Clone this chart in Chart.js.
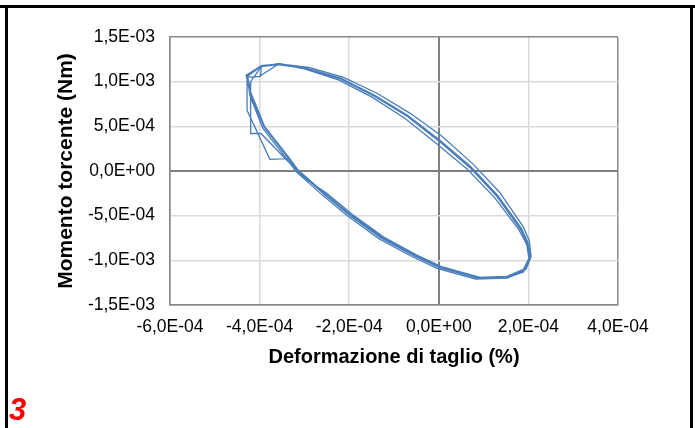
<!DOCTYPE html>
<html>
<head>
<meta charset="utf-8">
<script src="https://cdn.jsdelivr.net/npm/chart.js@4.4.1/dist/chart.umd.min.js"></script>
<style>
    body { margin: 0; background: #fff; }
    #wrap { position: relative; width: 695px; height: 428px; overflow: hidden; }
    #loop-chart { position: absolute; left: 0; top: 0; }
    .bar { position: absolute; background: #000; }
    #num { position: absolute; left: 9px; top: 392px; color: #ff0000;
           font: italic bold 31px "Liberation Sans", Arial, sans-serif; }
</style>
</head>
<body>
<div id="wrap">
    <canvas id="loop-chart" width="695" height="428"></canvas>
    <div class="bar" style="left:0;top:5px;width:695px;height:3px"></div>
    <div class="bar" style="left:5px;top:5px;width:3px;height:423px"></div>
    <div class="bar" style="left:690px;top:5px;width:3px;height:423px"></div>
    <div id="num">3</div>
</div>
<script>
// tick labels
var xTicks = [-6e-4, -4e-4, -2e-4, 0, 2e-4, 4e-4];
var yTicks = [-1.5e-3, -1e-3, -5e-4, 0, 5e-4, 1e-3, 1.5e-3];

// Deformazione di taglio (%) / Momento torcente (Nm), one array per cycle
var defCiclo1 = [-4.00e-4, -3.60e-4, -2.98e-4, -2.22e-4, -1.47e-4, -0.72e-4, -0.02e-4, 0.68e-4, 1.28e-4, 1.81e-4, 1.97e-4, 2.02e-4, 1.89e-4, 1.52e-4, 0.84e-4, -0.02e-4, -0.57e-4, -1.31e-4, -2.00e-4, -2.58e-4, -3.17e-4, -3.36e-4, -3.77e-4, -4.28e-4, -4.28e-4];
var momCiclo1 = [1.06e-3, 1.19e-3, 1.15e-3, 1.04e-3, 0.85e-3, 0.62e-3, 0.35e-3, 0.06e-3, -0.26e-3, -0.63e-3, -0.79e-3, -0.97e-3, -1.10e-3, -1.18e-3, -1.19e-3, -1.07e-3, -0.94e-3, -0.74e-3, -0.49e-3, -0.25e-3, 0.01e-3, 0.14e-3, 0.13e-3, 0.68e-3, 1.07e-3];

var defCiclo2 = [-3.96e-4, -3.55e-4, -2.90e-4, -2.14e-4, -1.38e-4, -0.62e-4, 0.07e-4, 0.76e-4, 1.36e-4, 1.88e-4, 2.02e-4, 2.06e-4, 1.95e-4, 1.58e-4, 0.92e-4, 0.06e-4, -0.49e-4, -1.23e-4, -1.92e-4, -2.50e-4, -3.00e-4, -3.97e-4, -4.20e-4, -4.20e-4];
var momCiclo2 = [1.18e-3, 1.20e-3, 1.16e-3, 1.05e-3, 0.87e-3, 0.64e-3, 0.39e-3, 0.08e-3, -0.24e-3, -0.62e-3, -0.78e-3, -0.96e-3, -1.10e-3, -1.18e-3, -1.19e-3, -1.07e-3, -0.94e-3, -0.74e-3, -0.49e-3, -0.25e-3, -0.08e-3, 0.42e-3, 0.42e-3, 1.00e-3];

var defCiclo3 = [-3.95e-4, -3.54e-4, -2.94e-4, -2.19e-4, -1.44e-4, -0.69e-4, 0.01e-4, 0.71e-4, 1.31e-4, 1.84e-4, 1.99e-4, 2.04e-4, 1.91e-4, 1.54e-4, 0.87e-4, 0.01e-4, -0.54e-4, -1.28e-4, -1.97e-4, -2.55e-4, -3.14e-4, -3.33e-4, -3.89e-4, -4.19e-4, -4.27e-4, -4.22e-4, -3.98e-4];
var momCiclo3 = [1.18e-3, 1.20e-3, 1.15e-3, 1.04e-3, 0.85e-3, 0.62e-3, 0.35e-3, 0.05e-3, -0.27e-3, -0.64e-3, -0.80e-3, -0.98e-3, -1.11e-3, -1.19e-3, -1.19e-3, -1.07e-3, -0.94e-3, -0.74e-3, -0.49e-3, -0.25e-3, 0.01e-3, 0.14e-3, 0.50e-3, 0.87e-3, 1.07e-3, 1.05e-3, 1.06e-3];

var defCiclo4 = [-3.96e-4, -3.56e-4, -2.98e-4, -2.24e-4, -1.50e-4, -0.76e-4, -0.06e-4, 0.64e-4, 1.25e-4, 1.79e-4, 1.96e-4, 2.02e-4, 1.89e-4, 1.51e-4, 0.82e-4, -0.04e-4, -0.59e-4, -1.33e-4, -2.02e-4, -2.60e-4, -3.18e-4, -3.37e-4, -3.93e-4, -4.22e-4, -4.27e-4];
var momCiclo4 = [1.18e-3, 1.20e-3, 1.14e-3, 1.02e-3, 0.83e-3, 0.59e-3, 0.31e-3, 0.02e-3, -0.30e-3, -0.66e-3, -0.82e-3, -1.00e-3, -1.13e-3, -1.20e-3, -1.21e-3, -1.09e-3, -0.96e-3, -0.76e-3, -0.51e-3, -0.27e-3, -0.01e-3, 0.12e-3, 0.48e-3, 0.85e-3, 1.06e-3];

var defCiclo5 = [-3.97e-4, -3.57e-4, -2.96e-4, -2.20e-4, -1.45e-4, -0.70e-4, -0.01e-4, 0.69e-4, 1.29e-4, 1.82e-4, 1.98e-4, 2.03e-4, 1.90e-4, 1.53e-4, 0.86e-4, 0.00e-4, -0.55e-4, -1.29e-4, -1.98e-4, -2.56e-4, -3.15e-4, -3.34e-4, -3.90e-4, -4.21e-4, -4.30e-4, -3.96e-4];
var momCiclo5 = [1.17e-3, 1.19e-3, 1.15e-3, 1.03e-3, 0.84e-3, 0.61e-3, 0.34e-3, 0.04e-3, -0.28e-3, -0.65e-3, -0.81e-3, -0.99e-3, -1.12e-3, -1.20e-3, -1.20e-3, -1.08e-3, -0.95e-3, -0.75e-3, -0.50e-3, -0.26e-3, 0.00e-3, 0.13e-3, 0.49e-3, 0.86e-3, 1.07e-3, 1.18e-3];

var defCicli = [defCiclo1, defCiclo2, defCiclo3, defCiclo4, defCiclo5];
var momCicli = [momCiclo1, momCiclo2, momCiclo3, momCiclo4, momCiclo5];

var points = [];
defCicli.forEach(function (def, c) {
    def.forEach(function (x, i) {
        points.push({ x: x, y: momCicli[c][i] });
    });
});

// 1,5E-03 style labels
function fmtSci(v) {
    if (Math.abs(v) < 1e-12) v = 0;
    var s = v.toExponential(1).split('e');
    var e = parseInt(s[1], 10);
    var ae = Math.abs(e);
    return s[0].replace('.', ',') + 'E' + (e < 0 ? '-' : '+') + (ae < 10 ? '0' : '') + ae;
}

function gridColor(min, max) {
    return function (c) {
        var v = c.tick ? c.tick.value : null;
        if (v === 0) return '#7f7f7f';
        if (v === min || v === max) return '#898989';
        return '#d9d9d9';
    };
}
function gridWidth(c) {
    return (c.tick && c.tick.value === 0) ? 2 : 1.5;
}

var tickFont = { family: '"Liberation Sans", Arial, sans-serif', size: 17.5 };

var ctx = document.getElementById('loop-chart').getContext('2d');
var myChart = new Chart(ctx, {
    type: 'scatter',
    data: {
        datasets: [{
            data: points,
            showLine: true,
            borderColor: '#4a7ebb',
            borderWidth: 1.3,
            pointRadius: 0,
            tension: 0,
            fill: false
        }]
    },
    options: {
        responsive: false,
        animation: false,
        devicePixelRatio: 1,
        layout: { padding: { left: 54, right: 77, top: 37, bottom: 59 } },
        plugins: { legend: { display: false }, tooltip: { enabled: false } },
        scales: {
            x: {
                type: 'linear',
                min: -6e-4,
                max: 4e-4,
                afterBuildTicks: function (scale) {
                    scale.ticks = xTicks.map(function (v) { return { value: v }; });
                },
                afterFit: function (scale) { scale.height = 64; },
                ticks: { color: '#000', font: tickFont, padding: 12, maxRotation: 0,
                         callback: function (v) { return fmtSci(v); } },
                grid: { color: gridColor(-6e-4, 4e-4), lineWidth: gridWidth, drawTicks: false },
                border: { display: true, color: '#898989', width: 1.5 },
                title: { display: true, text: 'Deformazione di taglio (%)', color: '#000',
                         padding: 0,
                         font: { family: '"Liberation Sans", Arial, sans-serif', size: 20, weight: 'bold' } }
            },
            y: {
                type: 'linear',
                min: -1.5e-3,
                max: 1.5e-3,
                afterBuildTicks: function (scale) {
                    scale.ticks = yTicks.map(function (v) { return { value: v }; });
                },
                afterFit: function (scale) { scale.width = 116; },
                ticks: { color: '#000', font: tickFont, padding: 15,
                         callback: function (v) { return fmtSci(v); } },
                grid: { color: gridColor(-1.5e-3, 1.5e-3), lineWidth: gridWidth, drawTicks: false },
                border: { display: true, color: '#898989', width: 1.5 },
                title: { display: true, text: 'Momento torcente (Nm)', color: '#000',
                         padding: 0,
                         font: { family: '"Liberation Sans", Arial, sans-serif', size: 21, weight: 'bold' } }
            }
        }
    }
});
</script>
</body>
</html>
